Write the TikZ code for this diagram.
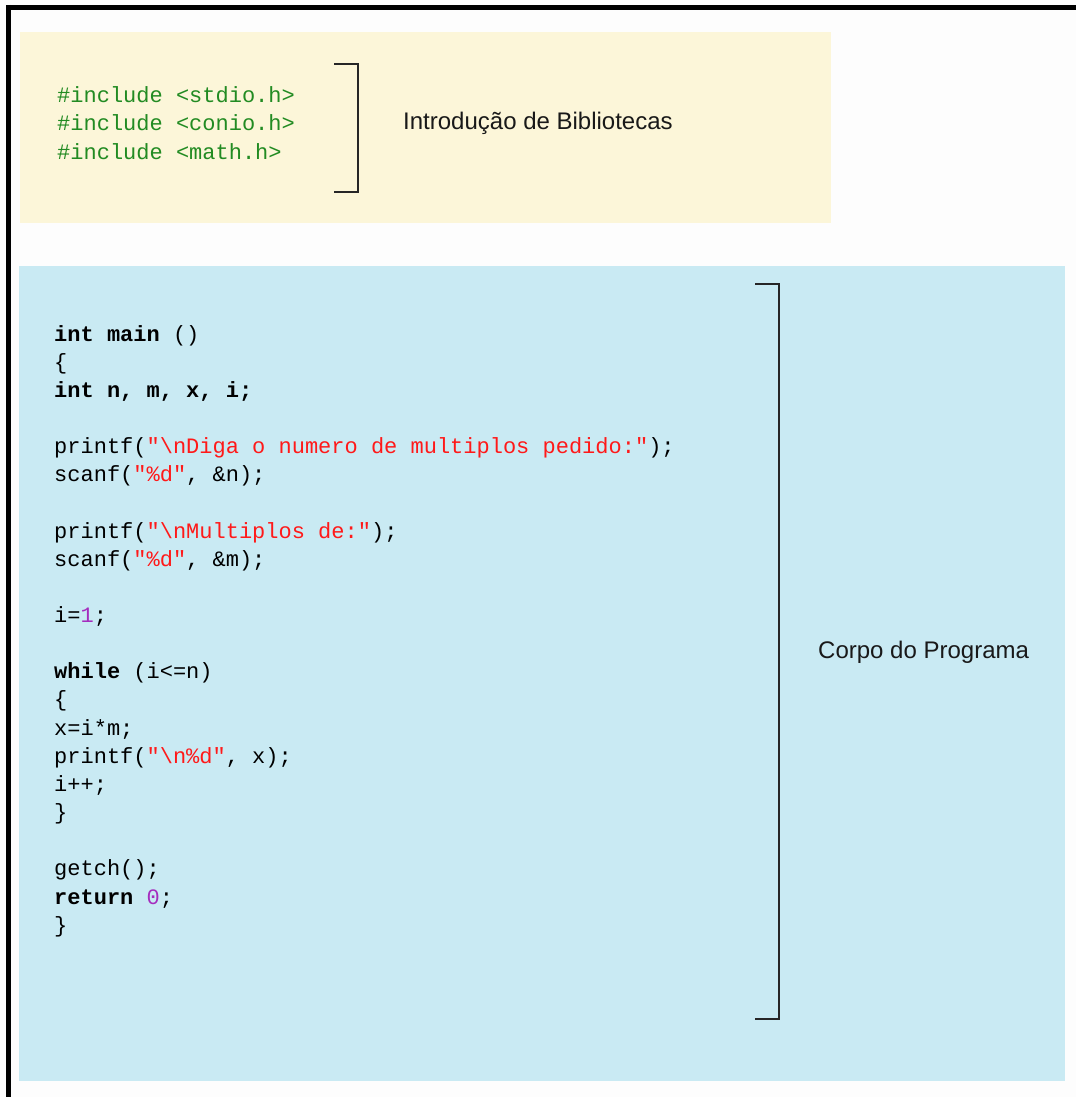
\documentclass[tikz,border=0pt]{standalone}
\usepackage{fontspec}
\setmainfont{Liberation Sans}
\setmonofont{Liberation Mono}
\definecolor{pagebg}{RGB}{253,253,253}
\definecolor{incbg}{RGB}{252,246,217}
\definecolor{bodybg}{RGB}{201,234,243}
\definecolor{incgreen}{RGB}{34,139,34}
\definecolor{strred}{RGB}{255,25,25}
\definecolor{numpurple}{RGB}{165,45,190}
\newcommand{\str}[1]{\textcolor{strred}{#1}}
\newcommand{\num}[1]{\textcolor{numpurple}{#1}}
\newcommand{\kw}[1]{\textbf{#1}}
\begin{document}
\begin{tikzpicture}[x=1pt,y=-1pt,
  codetxt/.style={anchor=base west,inner sep=0pt,font=\ttfamily\fontsize{22}{28}\selectfont},
  inctxt/.style={codetxt,text=incgreen},
  lbltxt/.style={anchor=base west,inner sep=0pt,font=\rmfamily\fontsize{24}{28}\selectfont,text=black!90},
  bracket/.style={draw=black!85,line width=2pt},
  border/.style={draw=black,line width=5pt}]
\useasboundingbox (0,0) rectangle (1076,1097);
\fill[pagebg] (0,0) rectangle (1076,1097);
% borders
\draw[border] (6,7.5) -- (1076,7.5);
\draw[border] (8.5,5) -- (8.5,1097);
% panels
\fill[incbg] (20,32) rectangle (831,222.5);
\fill[bodybg] (19,266) rectangle (1065,1081);
% includes
\node[inctxt] (i1) at (57,103) {\#include <stdio.h>};
\node[inctxt] (i2) at (57,131) {\#include <conio.h>};
\node[inctxt] (i3) at (57,159) {\#include <math.h>};
\node[lbltxt] (lib) at (403,130) {Introdução de Bibliotecas};
\draw[bracket] (334,64.3) -- (358.3,64.3) -- (358.3,191.7) -- (334,191.7);
% code
\node[codetxt] (c1)  at (54,341)    {\kw{int main} ()};
\node[codetxt] (c2)  at (54,369.15) {\{};
\node[codetxt] (c3)  at (54,397.3)  {\kw{int n, m, x, i;}};
\node[codetxt] (c5)  at (54,453.6)  {printf(\str{"\textbackslash nDiga o numero de multiplos pedido:"});};
\node[codetxt] (c6)  at (54,481.75) {scanf(\str{"\%d"}, \&n);};
\node[codetxt] (c8)  at (54,538.05) {printf(\str{"\textbackslash nMultiplos de:"});};
\node[codetxt] (c9)  at (54,566.2)  {scanf(\str{"\%d"}, \&m);};
\node[codetxt] (c11) at (54,622.5)  {i=\num{1};};
\node[codetxt] (c13) at (54,678.8)  {\kw{while} (i<=n)};
\node[codetxt] (c14) at (54,706.95) {\{};
\node[codetxt] (c15) at (54,735.1)  {x=i*m;};
\node[codetxt] (c16) at (54,763.25) {printf(\str{"\textbackslash n\%d"}, x);};
\node[codetxt] (c17) at (54,791.4)  {i++;};
\node[codetxt] (c18) at (54,819.55) {\}};
\node[codetxt] (c20) at (54,875.85) {getch();};
\node[codetxt] (c21) at (54,904)    {\kw{return} \num{0};};
\node[codetxt] (c22) at (54,932.15) {\}};
\node[lbltxt] (body) at (818,658) {Corpo do Programa};
\draw[bracket] (755,283.5) -- (778.5,283.5) -- (778.5,1018.5) -- (755,1018.5);
\end{tikzpicture}
\end{document}
